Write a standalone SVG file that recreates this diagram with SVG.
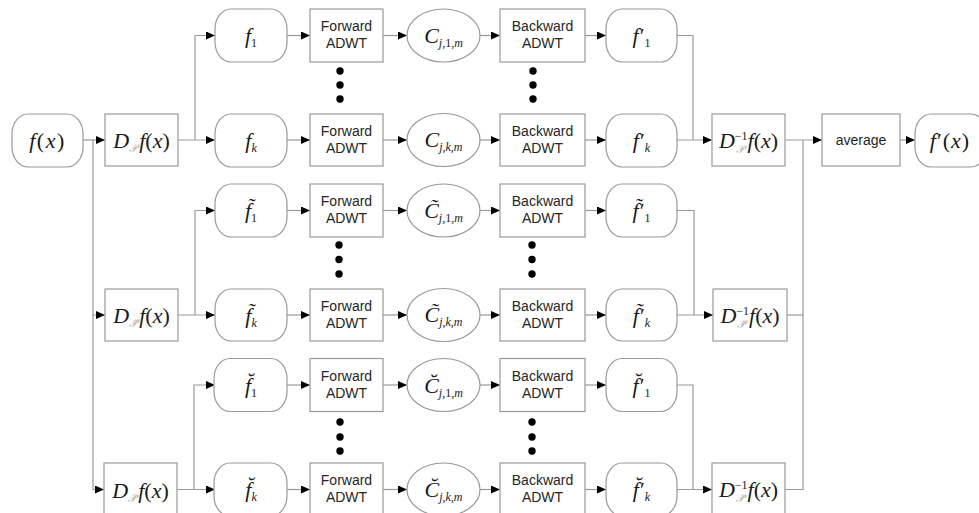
<svg xmlns="http://www.w3.org/2000/svg" width="979" height="513" viewBox="0 0 979 513">
<style>
.n{fill:#fff;stroke:#9a9a9a;stroke-width:1.2}
.c{fill:none;stroke:#9a9a9a;stroke-width:1.2}
.a{marker-end:url(#ah)}
.t{font-family:"Liberation Sans",Arial,sans-serif;font-size:14px;fill:#262626;text-anchor:middle}
.m{font-family:"Liberation Serif","DejaVu Serif",serif;font-style:italic;font-size:22px;fill:#1a1a1a;text-anchor:middle}
.s{font-size:12px}
.up{font-style:normal}
.sp{font-size:11px;fill:#aaa}
.d{fill:#000}
</style>
<defs>
<marker id="ah" markerUnits="userSpaceOnUse" markerWidth="10" markerHeight="8" refX="9" refY="4" orient="auto">
<path d="M0,0 L9,4 L0,8 Z" fill="#000"/>
</marker>
</defs>

<g id="connectors">
<path class="c a" d="M83,140 H105"/>
<path class="c a" d="M93,140 V315 H105"/>
<path class="c a" d="M93,315 V489.5 H104"/>
<path class="c a" d="M178,140 H215"/>
<path class="c a" d="M195,140 V35.5 H215"/>
<path class="c a" d="M287,35.5 H310"/>
<path class="c a" d="M383,35.5 H407"/>
<path class="c a" d="M480,35.5 H500"/>
<path class="c a" d="M585,35.5 H606"/>
<path class="c a" d="M287,140 H310"/>
<path class="c a" d="M383,140 H407"/>
<path class="c a" d="M480,140 H500"/>
<path class="c a" d="M585,140 H606"/>
<path class="c" d="M677,35.5 H693 V140"/>
<path class="c a" d="M677,140 H712"/>
<path class="c a" d="M178,315 H215"/>
<path class="c a" d="M195,315 V210.5 H215"/>
<path class="c a" d="M287,210.5 H310"/>
<path class="c a" d="M383,210.5 H407"/>
<path class="c a" d="M480,210.5 H500"/>
<path class="c a" d="M585,210.5 H606"/>
<path class="c a" d="M287,315 H310"/>
<path class="c a" d="M383,315 H407"/>
<path class="c a" d="M480,315 H500"/>
<path class="c a" d="M585,315 H606"/>
<path class="c" d="M677,210.5 H694 V315"/>
<path class="c a" d="M677,315 H713"/>
<path class="c a" d="M177,489.5 H215"/>
<path class="c a" d="M194,489.5 V385 H215"/>
<path class="c a" d="M287,385 H310"/>
<path class="c a" d="M383,385 H407"/>
<path class="c a" d="M480,385 H500"/>
<path class="c a" d="M585,385 H606"/>
<path class="c a" d="M287,489.5 H310"/>
<path class="c a" d="M383,489.5 H407"/>
<path class="c a" d="M480,489.5 H500"/>
<path class="c a" d="M585,489.5 H606"/>
<path class="c" d="M677,385 H693 V489.5"/>
<path class="c a" d="M677,489.5 H712"/>
<path class="c a" d="M785,140 H822"/>
<path class="c" d="M787,315 H803"/>
<path class="c" d="M785,489.5 H803 V140"/>
<path class="c a" d="M900,140 H915"/>
</g>

<g id="dots">
<circle class="d" cx="340" cy="71" r="3.7"/><circle class="d" cx="340" cy="85" r="3.7"/><circle class="d" cx="340" cy="99" r="3.7"/>
<circle class="d" cx="533" cy="71" r="3.7"/><circle class="d" cx="533" cy="85" r="3.7"/><circle class="d" cx="533" cy="99" r="3.7"/>
<circle class="d" cx="339" cy="245" r="3.7"/><circle class="d" cx="339" cy="259.5" r="3.7"/><circle class="d" cx="339" cy="274" r="3.7"/>
<circle class="d" cx="532" cy="245" r="3.7"/><circle class="d" cx="532" cy="259.5" r="3.7"/><circle class="d" cx="532" cy="274" r="3.7"/>
<circle class="d" cx="340" cy="422" r="3.7"/><circle class="d" cx="340" cy="437" r="3.7"/><circle class="d" cx="340" cy="451" r="3.7"/>
<circle class="d" cx="532" cy="422" r="3.7"/><circle class="d" cx="532" cy="437" r="3.7"/><circle class="d" cx="532" cy="451" r="3.7"/>
</g>

<g id="input">
<rect class="n" x="12" y="114" width="71" height="53" rx="16" ry="20"/>
<text class="m" x="47.5" y="148" letter-spacing="1.5">f<tspan class="up">(</tspan>x<tspan class="up">)</tspan></text>
</g>

<g id="D1">
<rect class="n" x="105" y="114" width="73" height="52"/>
<text class="m" x="141.5" y="148">D<tspan class="sp" dy="4">𝒫</tspan><tspan dy="-4" dx="2">f</tspan><tspan class="up">(</tspan>x<tspan class="up">)</tspan></text>
</g>
<g id="D2">
<rect class="n" x="105" y="289" width="73" height="52"/>
<text class="m" x="141.5" y="323">D<tspan class="sp" dy="4">𝒫̃</tspan><tspan dy="-4" dx="2">f</tspan><tspan class="up">(</tspan>x<tspan class="up">)</tspan></text>
</g>
<g id="D3">
<rect class="n" x="104" y="463" width="73" height="53"/>
<text class="m" x="140.5" y="497.5">D<tspan class="sp" dy="4">𝒫̆</tspan><tspan dy="-4" dx="2">f</tspan><tspan class="up">(</tspan>x<tspan class="up">)</tspan></text>
</g>

<g id="f1">
<rect class="n" x="215" y="9" width="72" height="53" rx="16" ry="20"/>
<text class="m" x="251" y="43">f<tspan class="s up" dy="4">1</tspan></text>
</g>
<g id="fw1">
<rect class="n" x="310" y="9" width="73" height="53"/>
<text class="t" x="346.5" y="31">Forward</text><text class="t" x="346.5" y="48">ADWT</text>
</g>
<g id="c1">
<ellipse class="n" cx="443.5" cy="35.5" rx="36.5" ry="26.5"/>
<text class="m" x="443.5" y="43">C<tspan class="s" dy="4">j</tspan><tspan class="s up">,1,</tspan><tspan class="s">m</tspan></text>
</g>
<g id="bw1">
<rect class="n" x="500" y="9" width="85" height="53"/>
<text class="t" x="542.5" y="31">Backward</text><text class="t" x="542.5" y="48">ADWT</text>
</g>
<g id="fp1">
<rect class="n" x="606" y="9" width="71" height="53" rx="16" ry="20"/>
<text class="m" x="641.5" y="43">f<tspan class="up" dx="1">′</tspan><tspan class="s up" dy="4">1</tspan></text>
</g>

<g id="fk">
<rect class="n" x="215" y="114" width="72" height="53" rx="16" ry="20"/>
<text class="m" x="251" y="148">f<tspan class="s" dy="4">k</tspan></text>
</g>
<g id="fwk">
<rect class="n" x="310" y="114" width="73" height="52"/>
<text class="t" x="346.5" y="136">Forward</text><text class="t" x="346.5" y="153">ADWT</text>
</g>
<g id="ck">
<ellipse class="n" cx="443.5" cy="140" rx="36.5" ry="26.5"/>
<text class="m" x="443.5" y="147">C<tspan class="s" dy="4">j</tspan><tspan class="s up">,</tspan><tspan class="s">k</tspan><tspan class="s up">,</tspan><tspan class="s">m</tspan></text>
</g>
<g id="bwk">
<rect class="n" x="500" y="114" width="85" height="52"/>
<text class="t" x="542.5" y="136">Backward</text><text class="t" x="542.5" y="153">ADWT</text>
</g>
<g id="fpk">
<rect class="n" x="606" y="114" width="71" height="53" rx="16" ry="20"/>
<text class="m" x="641.5" y="148">f<tspan class="up" dx="1">′</tspan><tspan class="s" dy="4">k</tspan></text>
</g>

<g id="tf1">
<rect class="n" x="215" y="184" width="72" height="53" rx="16" ry="20"/>
<text class="m" x="251" y="218">f̃<tspan class="s up" dy="4">1</tspan></text>
</g>
<g id="tfw1">
<rect class="n" x="310" y="184" width="73" height="53"/>
<text class="t" x="346.5" y="206">Forward</text><text class="t" x="346.5" y="223">ADWT</text>
</g>
<g id="tc1">
<ellipse class="n" cx="443.5" cy="210.5" rx="36.5" ry="26.5"/>
<text class="m" x="443.5" y="218">C̃<tspan class="s" dy="4">j</tspan><tspan class="s up">,1,</tspan><tspan class="s">m</tspan></text>
</g>
<g id="tbw1">
<rect class="n" x="500" y="184" width="85" height="53"/>
<text class="t" x="542.5" y="206">Backward</text><text class="t" x="542.5" y="223">ADWT</text>
</g>
<g id="tfp1">
<rect class="n" x="606" y="184" width="71" height="53" rx="16" ry="20"/>
<text class="m" x="641.5" y="218">f̃<tspan class="up" dx="1">′</tspan><tspan class="s up" dy="4">1</tspan></text>
</g>

<g id="tfk">
<rect class="n" x="215" y="289" width="72" height="52" rx="16" ry="20"/>
<text class="m" x="251" y="323">f̃<tspan class="s" dy="4">k</tspan></text>
</g>
<g id="tfwk">
<rect class="n" x="310" y="289" width="73" height="52"/>
<text class="t" x="346.5" y="311">Forward</text><text class="t" x="346.5" y="328">ADWT</text>
</g>
<g id="tck">
<ellipse class="n" cx="443.5" cy="315" rx="36.5" ry="26.5"/>
<text class="m" x="443.5" y="322">C̃<tspan class="s" dy="4">j</tspan><tspan class="s up">,</tspan><tspan class="s">k</tspan><tspan class="s up">,</tspan><tspan class="s">m</tspan></text>
</g>
<g id="tbwk">
<rect class="n" x="500" y="289" width="85" height="52"/>
<text class="t" x="542.5" y="311">Backward</text><text class="t" x="542.5" y="328">ADWT</text>
</g>
<g id="tfpk">
<rect class="n" x="606" y="289" width="71" height="52" rx="16" ry="20"/>
<text class="m" x="641.5" y="323">f̃<tspan class="up" dx="1">′</tspan><tspan class="s" dy="4">k</tspan></text>
</g>

<g id="bf1">
<rect class="n" x="214" y="358.5" width="73" height="53" rx="16" ry="20"/>
<text class="m" x="251" y="392.5">f̆<tspan class="s up" dy="4">1</tspan></text>
</g>
<g id="bfw1">
<rect class="n" x="310" y="358.5" width="73" height="53"/>
<text class="t" x="346.5" y="380.5">Forward</text><text class="t" x="346.5" y="397.5">ADWT</text>
</g>
<g id="bc1">
<ellipse class="n" cx="443.5" cy="385" rx="36.5" ry="26.5"/>
<text class="m" x="443.5" y="392.5">C̆<tspan class="s" dy="4">j</tspan><tspan class="s up">,1,</tspan><tspan class="s">m</tspan></text>
</g>
<g id="bbw1">
<rect class="n" x="500" y="358.5" width="85" height="53"/>
<text class="t" x="542.5" y="380.5">Backward</text><text class="t" x="542.5" y="397.5">ADWT</text>
</g>
<g id="bfp1">
<rect class="n" x="606" y="358.5" width="71" height="53" rx="16" ry="20"/>
<text class="m" x="641.5" y="392.5">f̆<tspan class="up" dx="1">′</tspan><tspan class="s up" dy="4">1</tspan></text>
</g>

<g id="bfk">
<rect class="n" x="214" y="463" width="73" height="53" rx="16" ry="20"/>
<text class="m" x="251" y="497">f̆<tspan class="s" dy="4">k</tspan></text>
</g>
<g id="bfwk">
<rect class="n" x="310" y="463" width="73" height="53"/>
<text class="t" x="346.5" y="485">Forward</text><text class="t" x="346.5" y="502">ADWT</text>
</g>
<g id="bck">
<ellipse class="n" cx="443.5" cy="489.5" rx="36.5" ry="26.5"/>
<text class="m" x="443.5" y="496.5">C̆<tspan class="s" dy="4">j</tspan><tspan class="s up">,</tspan><tspan class="s">k</tspan><tspan class="s up">,</tspan><tspan class="s">m</tspan></text>
</g>
<g id="bbwk">
<rect class="n" x="500" y="463" width="85" height="53"/>
<text class="t" x="542.5" y="485">Backward</text><text class="t" x="542.5" y="502">ADWT</text>
</g>
<g id="bfpk">
<rect class="n" x="606" y="463" width="71" height="53" rx="16" ry="20"/>
<text class="m" x="641.5" y="497">f̆<tspan class="up" dx="1">′</tspan><tspan class="s" dy="4">k</tspan></text>
</g>

<g id="Dinv1">
<rect class="n" x="712" y="114" width="73" height="52"/>
<text class="m" x="748.5" y="148">D<tspan class="s up" dy="-8">−1</tspan><tspan class="sp" dx="-12" dy="13">𝒫</tspan><tspan dy="-5" dx="4">f</tspan><tspan class="up">(</tspan>x<tspan class="up">)</tspan></text>
</g>
<g id="Dinv2">
<rect class="n" x="713" y="289" width="74" height="52"/>
<text class="m" x="750" y="323">D<tspan class="s up" dy="-8">−1</tspan><tspan class="sp" dx="-12" dy="13">𝒫̃</tspan><tspan dy="-5" dx="4">f</tspan><tspan class="up">(</tspan>x<tspan class="up">)</tspan></text>
</g>
<g id="Dinv3">
<rect class="n" x="712" y="463" width="73" height="53"/>
<text class="m" x="748.5" y="497">D<tspan class="s up" dy="-8">−1</tspan><tspan class="sp" dx="-12" dy="13">𝒫̆</tspan><tspan dy="-5" dx="4">f</tspan><tspan class="up">(</tspan>x<tspan class="up">)</tspan></text>
</g>

<g id="average">
<rect class="n" x="822" y="114" width="78" height="52"/>
<text class="t" x="861" y="145">average</text>
</g>
<g id="output">
<rect class="n" x="915" y="114" width="72" height="53" rx="16" ry="20"/>
<text class="m" x="950" y="148" letter-spacing="1">f<tspan class="up">′</tspan><tspan class="up">(</tspan>x<tspan class="up">)</tspan></text>
</g>
</svg>
